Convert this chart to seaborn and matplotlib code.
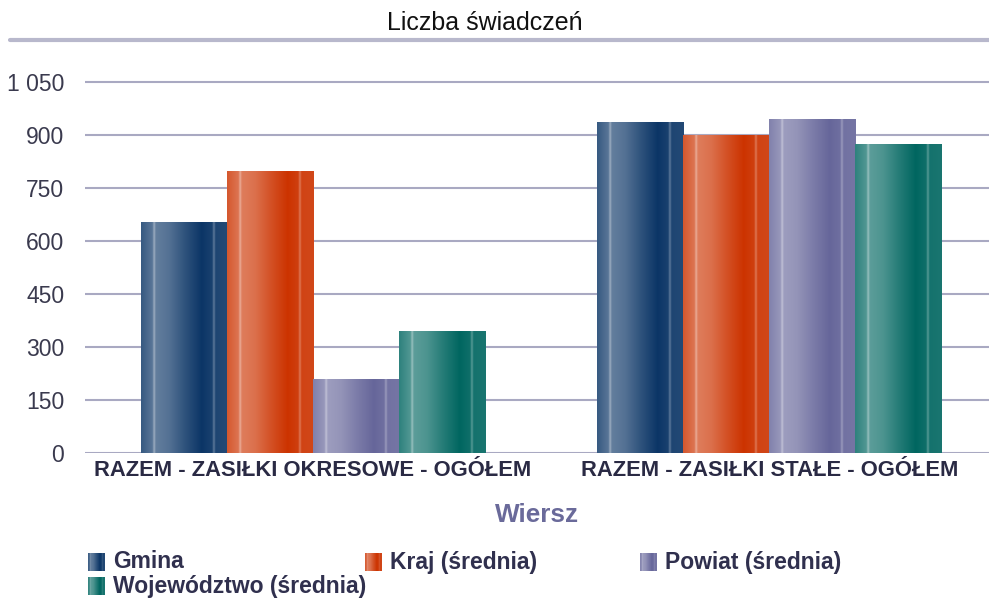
import numpy as np
import pandas as pd
import matplotlib
matplotlib.use("Agg")
import matplotlib.pyplot as plt
import seaborn as sns
from matplotlib.colors import to_rgb
from matplotlib.ticker import FuncFormatter, MultipleLocator

categories = ["RAZEM - ZASIŁKI OKRESOWE - OGÓŁEM", "RAZEM - ZASIŁKI STAŁE - OGÓŁEM"]
series_names = ["Gmina", "Kraj (średnia)", "Powiat (średnia)", "Województwo (średnia)"]
gmina = [651, 934]
kraj = [798, 900]
powiat = [208, 945]
wojewodztwo = [345, 872]
title = "Liczba świadczeń"
xlabel = "Wiersz"

colors = ["#0b3566", "#cc3300", "#66669a", "#006660"]

df = pd.DataFrame({
    "Wiersz": categories * 4,
    "Seria": [s for s in series_names for _ in categories],
    "Wartość": gmina + kraj + powiat + wojewodztwo,
})

sns.set_theme(style="white")
plt.rcParams["font.family"] = ["Liberation Sans", "DejaVu Sans"]

fig = plt.figure(figsize=(9.89, 5.99), dpi=100)
ax = fig.add_axes([85 / 989, 1 - 453 / 599, 1 - 85 / 989, (453 - 40) / 599])

sns.barplot(data=df, x="Wiersz", y="Wartość", hue="Seria", palette=colors,
            width=0.754, ax=ax, legend=False, saturation=1, errorbar=None)

# gradient profile (mix with white)
pts = [0.0, 0.13, 0.15, 0.17, 0.32, 0.5, 0.7, 0.82, 0.84, 0.86, 1.0]
mix = [0.18, 0.32, 0.6, 0.36, 0.3, 0.15, 0.0, 0.06, 0.35, 0.08, 0.1]
xs = np.linspace(0, 1, 200)
prof = np.interp(xs, pts, mix)


def grad_img(color):
    c = np.array(to_rgb(color))
    row = c[None, :] * (1 - prof[:, None]) + prof[:, None]
    return row[None, :, :]


ylim = (0, (453 - 40) / (371 / 1050))
bars = [p for p in ax.patches if p.get_height() > 0]
nper = len(categories)
for i, p in enumerate(bars):
    col = colors[i // nper]
    x0, w, h = p.get_x(), p.get_width(), p.get_height()
    ax.imshow(grad_img(col), extent=[x0, x0 + w, 0, h], aspect="auto",
              zorder=3, interpolation="bilinear")
    p.set_facecolor("none")
    p.set_edgecolor("none")

ax.set_xlim(-0.4995, 1.481)
ax.set_ylim(*ylim)
ax.yaxis.set_major_locator(MultipleLocator(150))
ax.yaxis.set_major_formatter(FuncFormatter(lambda v, _: f"{int(v):,}".replace(",", " ")))
ax.grid(axis="y", color="#a9a9c2", linewidth=1.5, zorder=0)
ax.set_axisbelow(True)
for s in ax.spines.values():
    s.set_visible(False)
ax.tick_params(axis="y", length=0, pad=15, labelsize=16.5, labelcolor="#3a3a4e")
ax.tick_params(axis="x", length=0, pad=5, labelsize=15.8, labelcolor="#2a2a44")
for t in ax.get_xticklabels():
    t.set_fontweight("bold")
ax.set_ylabel("")
ax.set_xlabel(xlabel, fontsize=18.8, fontweight="bold", color="#6a6a9a", labelpad=16)

fig.text(485 / 989, 1 - 23 / 599, title, ha="center", va="center", fontsize=18, color="#111111")
fig.add_artist(plt.Line2D([10 / 989, 1], [1 - 40 / 599, 1 - 40 / 599], color="#b8b8cc", linewidth=3))

# legend
legend_pos = [(88, 562), (365, 562), (640, 562), (88, 586)]
for (lx, ly), name, col in zip(legend_pos, series_names, colors):
    lax = fig.add_axes([lx / 989, 1 - (ly + 9) / 599, 17 / 989, 18 / 599])
    lax.imshow(grad_img(col), aspect="auto", extent=[0, 1, 0, 1])
    lax.axis("off")
    fig.text((lx + 25) / 989, 1 - ly / 599, name, ha="left", va="center",
             fontsize=16.5, fontweight="bold", color="#30304e")

fig.savefig("out.png", dpi=100)
